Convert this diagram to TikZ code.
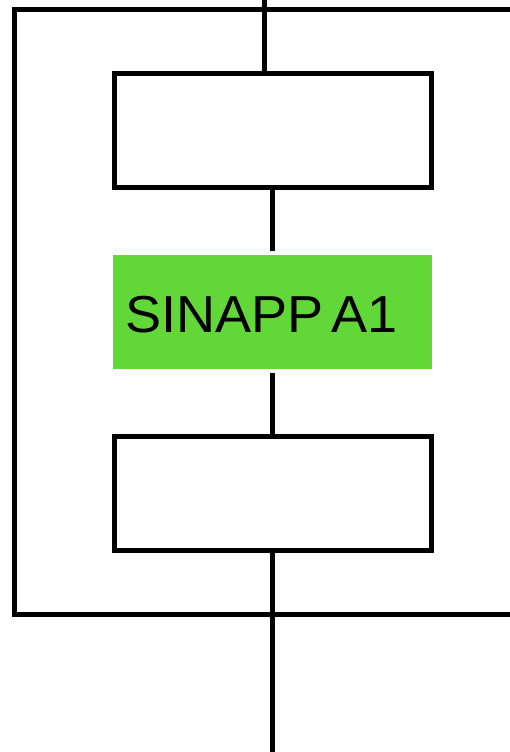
\documentclass[tikz,border=0pt]{standalone}
\usepackage{fontspec}
\setmainfont{Liberation Sans}
\definecolor{appgreen}{HTML}{62D838}
\newcommand{\appfont}{\fontsize{52}{52}\selectfont}
\newcommand{\applabel}[1]{\scalebox{1.04}[1]{\spaceskip=8pt\relax #1}}
\tikzset{
	wire/.style={line width=5pt},
	blockbox/.style={draw, line width=5pt, rectangle, minimum width=317pt, minimum height=114pt, inner sep=0pt},
	appbox/.style={fill=appgreen, rectangle, minimum width=319pt, minimum height=114pt, inner xsep=12pt, text width=295pt, text height=41pt, text depth=0pt, align=left, font=\appfont}
}
\begin{document}
\begin{tikzpicture}[x=1pt,y=-1pt]
	\useasboundingbox (0,0) rectangle (510,752);
		\node[appbox] (app) at (272.5,312) {\applabel{SINAPP A1}};
		\node[blockbox] (upper) at (272.5,130.5) {};
		\node[blockbox] (lower) at (272.5,493.5) {};
		\coordinate (intop) at (264,0);
		\coordinate (outbot) at (272.5,752);
		\coordinate (frameTR) at (510,9.5);
		\coordinate (frameBL) at (14,614.5);
		\coordinate (frameBR) at (510,614.5);
    	\draw[wire] (intop) -- (intop |- upper.north);
    	\draw[wire, shorten >=4pt] (upper.south) -- (app.north);
    	\draw[wire, shorten <=4pt] (app.south) -- (lower.north);
    	\draw[wire] (lower.south) -- (outbot);
    	\draw[wire] (frameTR) -| (frameBL) -- (frameBR);
	\end{tikzpicture}
\end{document}
